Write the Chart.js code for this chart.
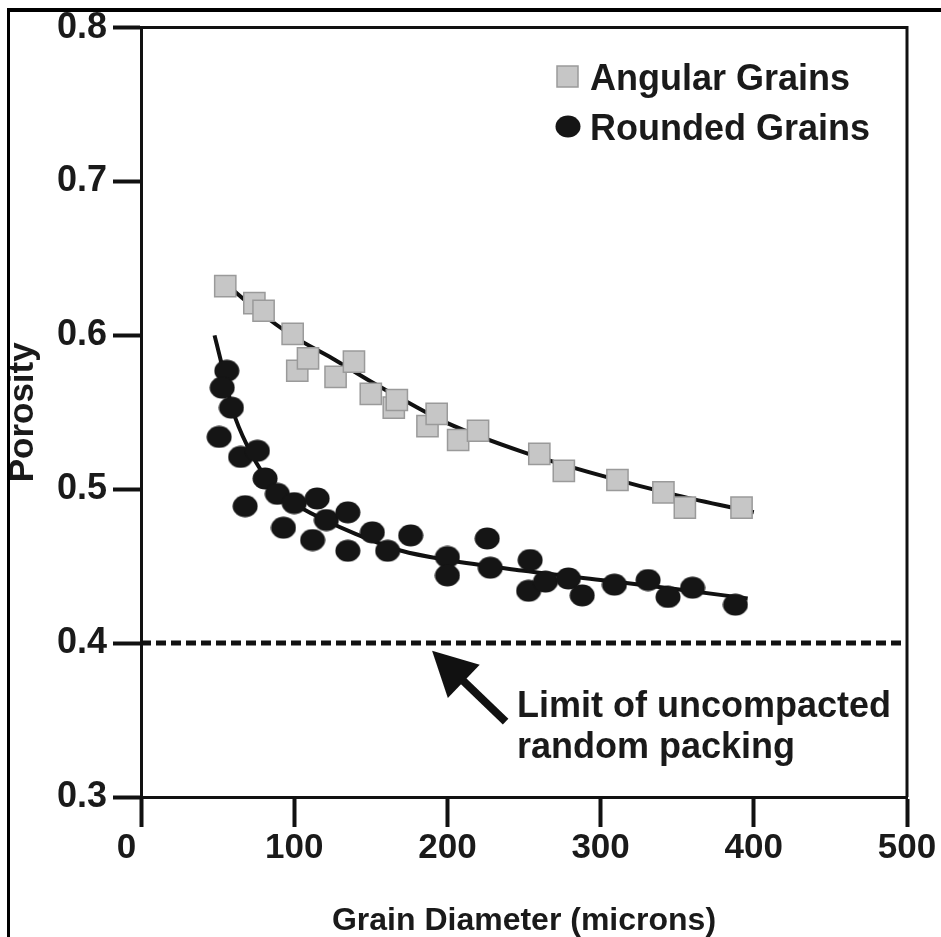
<!DOCTYPE html>
<html>
<head>
<meta charset="utf-8">
<title>Porosity vs grain diameter</title>
<script src="https://cdn.jsdelivr.net/npm/chart.js@4/dist/chart.umd.min.js"></script>
<style>
  html, body { margin: 0; padding: 0; background: #fff; }
  canvas { display: block; }
</style>
</head>
<body>
<canvas id="porosityChart" width="941" height="937"></canvas>
<script>
// measured porosity, angular grains
const angularX = [55, 74, 80, 99, 102, 109, 127, 139, 150, 165, 167, 187, 193, 207, 220, 260, 276, 311, 341, 355, 392];
const angularY = [0.632, 0.621, 0.616, 0.601, 0.577, 0.585, 0.573, 0.583, 0.562, 0.553, 0.558, 0.541, 0.549, 0.532, 0.538, 0.523, 0.512, 0.506, 0.498, 0.488, 0.488];

// measured porosity, rounded grains
const roundedX = [56, 53, 59, 51, 65, 76, 81, 68, 89, 93, 100, 115, 112, 121, 135, 135, 151, 161, 176, 200, 200, 226, 228, 254, 253, 264, 279, 288, 309, 331, 344, 360, 388];
const roundedY = [0.577, 0.566, 0.553, 0.534, 0.521, 0.525, 0.507, 0.489, 0.497, 0.475, 0.491, 0.494, 0.467, 0.480, 0.485, 0.460, 0.472, 0.460, 0.470, 0.456, 0.444, 0.468, 0.449, 0.454, 0.434, 0.440, 0.442, 0.431, 0.438, 0.441, 0.430, 0.436, 0.425];

// fitted trend curves
const angularFitX = [50, 75, 100, 125, 150, 175, 200, 250, 300, 350, 400];
const angularFitY = [0.638, 0.617, 0.599, 0.585, 0.570, 0.556, 0.543, 0.524, 0.509, 0.496, 0.485];
const roundedFitX = [48, 52, 60, 70, 80, 100, 120, 140, 170, 200, 250, 300, 350, 396];
const roundedFitY = [0.600, 0.584, 0.551, 0.527, 0.510, 0.491, 0.480, 0.471, 0.460, 0.454, 0.447, 0.441, 0.435, 0.429];

// random packing limit
const limitX = [0, 500];
const limitY = [0.4, 0.4];

const seriesLabels = ['Angular Grains', 'Rounded Grains'];
const limitText = ['Limit of uncompacted', 'random packing'];
// arrow tail -> tip, in data units
const arrowFrom = [238, 0.349];
const arrowTo = [190, 0.395];

const xTicks = [0, 100, 200, 300, 400, 500];
const yTicks = [0.3, 0.4, 0.5, 0.6, 0.7, 0.8];

const FONT = '"Liberation Sans", Arial, sans-serif';

function pairs(xs, ys) {
    return xs.map((x, i) => ({ x: x, y: ys[i] }));
}

// slightly flattened black dot used for rounded grains
function makeDot() {
    const c = document.createElement('canvas');
    c.width = 26; c.height = 23;
    const g = c.getContext('2d');
    g.fillStyle = '#151515';
    g.beginPath();
    g.ellipse(13, 11.5, 12.5, 11, 0, 0, Math.PI * 2);
    g.fill();
    return c;
}
const dot = makeDot();

const frameAndNotes = {
    id: 'frameAndNotes',
    afterDraw(chart) {
        const ctx = chart.ctx;
        const a = chart.chartArea;
        const xs = chart.scales.x, ys = chart.scales.y;
        ctx.save();

        // outer picture frame
        ctx.fillStyle = '#000';
        ctx.fillRect(7, 8, 934, 4);
        ctx.fillRect(7, 8, 3, 929);

        // top and right edges of the plot box
        ctx.strokeStyle = '#111';
        ctx.lineWidth = 3;
        ctx.beginPath();
        ctx.moveTo(a.left, a.top);
        ctx.lineTo(a.right, a.top);
        ctx.lineTo(a.right, a.bottom);
        ctx.stroke();

        // legend
        ctx.fillStyle = '#c6c6c6';
        ctx.strokeStyle = '#9a9a9a';
        ctx.lineWidth = 1.5;
        ctx.fillRect(557, 66, 21, 21);
        ctx.strokeRect(557, 66, 21, 21);
        ctx.drawImage(dot, 555, 115);
        ctx.fillStyle = '#1a1a1a';
        ctx.font = 'bold 36px ' + FONT;
        ctx.textBaseline = 'alphabetic';
        ctx.textAlign = 'left';
        ctx.fillText(seriesLabels[0], 590, 90);
        ctx.fillText(seriesLabels[1], 590, 140);

        // arrow pointing at the packing limit
        const x0 = xs.getPixelForValue(arrowFrom[0]), y0 = ys.getPixelForValue(arrowFrom[1]);
        const x1 = xs.getPixelForValue(arrowTo[0]), y1 = ys.getPixelForValue(arrowTo[1]);
        const ang = Math.atan2(y1 - y0, x1 - x0);
        const headLen = 44, headHalf = 23;
        const bx = x1 - headLen * Math.cos(ang), by = y1 - headLen * Math.sin(ang);
        ctx.strokeStyle = '#111';
        ctx.lineWidth = 8;
        ctx.beginPath();
        ctx.moveTo(x0, y0);
        ctx.lineTo(bx + 4 * Math.cos(ang), by + 4 * Math.sin(ang));
        ctx.stroke();
        ctx.fillStyle = '#111';
        ctx.beginPath();
        ctx.moveTo(x1, y1);
        ctx.lineTo(bx + headHalf * Math.sin(ang), by - headHalf * Math.cos(ang));
        ctx.lineTo(bx - headHalf * Math.sin(ang), by + headHalf * Math.cos(ang));
        ctx.closePath();
        ctx.fill();

        ctx.fillStyle = '#1a1a1a';
        ctx.font = 'bold 36px ' + FONT;
        ctx.fillText(limitText[0], 517, 717);
        ctx.fillText(limitText[1], 517, 758);

        ctx.restore();
    }
};

new Chart(document.getElementById('porosityChart').getContext('2d'), {
    type: 'scatter',
    data: {
        datasets: [{
            label: seriesLabels[0],
            data: pairs(angularX, angularY),
            pointStyle: 'rect',
            pointRadius: 15,
            pointHoverRadius: 15,
            backgroundColor: '#c6c6c6',
            borderColor: '#9a9a9a',
            borderWidth: 1.5,
            order: 1
        }, {
            label: seriesLabels[1],
            data: pairs(roundedX, roundedY),
            pointStyle: dot,
            pointRadius: 12,
            backgroundColor: '#151515',
            order: 1
        }, {
            label: 'angular fit',
            data: pairs(angularFitX, angularFitY),
            showLine: true,
            cubicInterpolationMode: 'monotone',
            pointRadius: 0,
            borderColor: '#111',
            borderWidth: 4,
            order: 2
        }, {
            label: 'rounded fit',
            data: pairs(roundedFitX, roundedFitY),
            showLine: true,
            cubicInterpolationMode: 'monotone',
            pointRadius: 0,
            borderColor: '#111',
            borderWidth: 4,
            order: 2
        }, {
            label: 'packing limit',
            data: pairs(limitX, limitY),
            showLine: true,
            pointRadius: 0,
            borderColor: '#111',
            borderWidth: 5,
            borderDash: [10, 5],
            order: 3
        }]
    },
    options: {
        responsive: false,
        animation: false,
        layout: { padding: { top: 27, right: 34, left: 0, bottom: 0 } },
        scales: {
            x: {
                type: 'linear',
                min: 0,
                max: 500,
                afterBuildTicks: s => { s.ticks = xTicks.map(v => ({ value: v })); },
                afterFit: s => { s.height = 140; },
                border: { display: true, color: '#111', width: 3 },
                grid: { drawOnChartArea: false, drawTicks: true, tickLength: 30, tickWidth: 4, tickColor: '#111' },
                ticks: {
                    color: '#1a1a1a',
                    padding: 0,
                    font: { family: FONT, size: 35, weight: 'bold' },
                    // the zero label sits a little left of its tick
                    callback: v => (v === 0 ? '0   ' : String(v))
                },
                title: {
                    display: true,
                    text: 'Grain Diameter (microns)',
                    color: '#1a1a1a',
                    padding: 0,
                    font: { family: FONT, size: 32, weight: 'bold', lineHeight: 1 }
                }
            },
            y: {
                type: 'linear',
                min: 0.3,
                max: 0.8,
                afterBuildTicks: s => { s.ticks = yTicks.map(v => ({ value: v })); },
                afterFit: s => { s.width = 141; },
                border: { display: true, color: '#111', width: 3 },
                grid: { drawOnChartArea: false, drawTicks: true, tickLength: 28, tickWidth: 4, tickColor: '#111' },
                ticks: {
                    color: '#1a1a1a',
                    padding: 6,
                    font: { family: FONT, size: 36, weight: 'bold' },
                    callback: v => v.toFixed(1)
                },
                title: {
                    display: true,
                    text: 'Porosity',
                    color: '#1a1a1a',
                    padding: { top: 2, bottom: 0 },
                    font: { family: FONT, size: 35, weight: 'bold', lineHeight: 1.2 }
                }
            }
        },
        plugins: {
            legend: { display: false },
            tooltip: { enabled: false }
        }
    },
    plugins: [frameAndNotes]
});
</script>
</body>
</html>
